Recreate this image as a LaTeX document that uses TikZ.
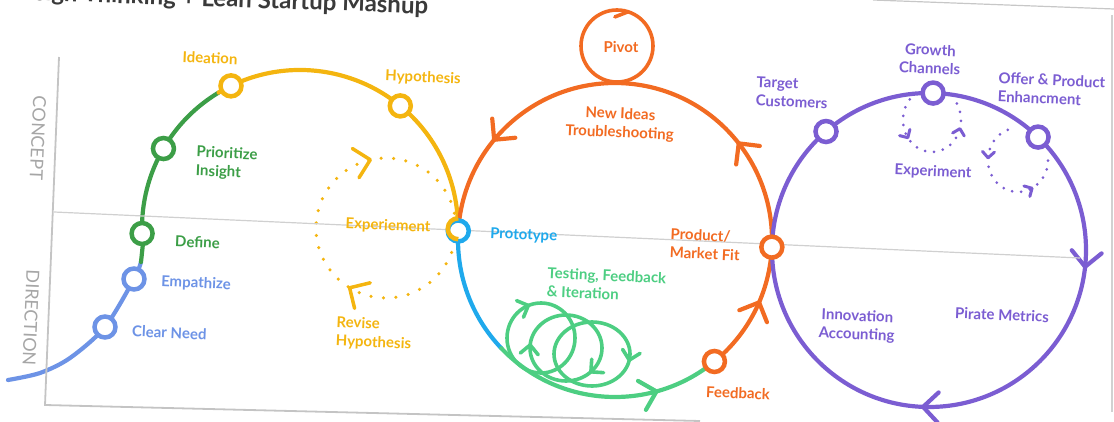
\documentclass[tikz,border=0pt]{standalone}
\usepackage{fontspec}
\setmainfont{Lato}
\usetikzlibrary{positioning,calc,decorations.markings}
\pgfdeclarelayer{bg}
\pgfsetlayers{bg,main}
\definecolor{dtblue}{HTML}{6D93E6}
\definecolor{dtgreen}{HTML}{3C9E47}
\definecolor{dtyellow}{HTML}{F4B510}
\definecolor{dtcyan}{HTML}{1FA9EC}
\definecolor{dtorange}{HTML}{F26B22}
\definecolor{dtmint}{HTML}{4DCE82}
\definecolor{dtpurple}{HTML}{7B5DD2}
\definecolor{dtaxis}{HTML}{C4C4C4}
\definecolor{dttitle}{HTML}{3A3A3A}

\begin{document}
\begin{tikzpicture}[x=1pt, y=1pt,
  curve/.style={line width=4.2pt, line cap=round},
  loopline/.style={line width=3.6pt, line cap=round},
  ring/.style={circle, draw=#1, fill=white, line width=4.5pt, minimum size=21pt, inner sep=0pt},
  lbl/.style={font=\fontsize{15}{18.5}\selectfont\bfseries, text=#1, rotate=-2.5, inner sep=0pt},
  axislbl/.style={font=\fontsize{18}{18}\selectfont, text=black!35, rotate=-92.5, inner sep=0pt},
  ydots/.style={line width=3.5pt, dash pattern=on 0pt off 12.5pt, line cap=round},
  pdots/.style={line width=3pt, dash pattern=on 0pt off 9pt, line cap=round},
  arr/.style={postaction={decorate, decoration={markings, mark=at position #1 with {\draw[solid, line cap=round, line join=round] (-15pt,15pt) -- (0pt,0pt) -- (-15pt,-15pt);}}}},
  marr/.style={postaction={decorate, decoration={markings, mark=at position #1 with {\draw[solid, line cap=round, line join=round] (-9pt,9pt) -- (0pt,0pt) -- (-9pt,-9pt);}}}},
  sarr/.style={postaction={decorate, decoration={markings, mark=at position #1 with {\draw[solid, line cap=round, line join=round] (-6pt,6pt) -- (0pt,0pt) -- (-6pt,-6pt);}}}},
  harr/.style={postaction={decorate, decoration={markings, mark=at position #1 with {\draw[solid, line cap=round] (-11pt,-9pt) -- (0pt,0pt);}}}}]
\useasboundingbox (0,0) rectangle (1114,-422);

% axes and paper edge
\coordinate (ytop) at (59,-57);
\coordinate (orig) at (45,-405);
\coordinate (xend) at (700,-421);
\coordinate (mleft) at (54,-212);
\coordinate (mright) at (1080,-258);
\draw[dtaxis, line width=1.8pt] (ytop) -- (orig) -- (xend);
\draw[dtaxis!80, line width=1.2pt] (mleft) -- (mright);
\coordinate (etl) at (873,0);
\coordinate (etr) at (1114,-9);
\coordinate (ebt) at (1112,-15);
\coordinate (ebr) at (1112,-412);
\draw[black!22, line width=1.2pt] (etl) -- (etr);
\draw[black!18, line width=1.4pt] (ebt) -- (ebr);

\node[font=\fontsize{24}{24}\selectfont\bfseries, text=dttitle, anchor=base east, rotate=-2, inner sep=0pt] (title) at (428,-14) {Design Thinking + Lean Startup Mashup};
\node[axislbl] (lconcept) at (38,-138) {CONCEPT};
\node[axislbl] (ldirection) at (31,-318) {DIRECTION};

% centres
\coordinate (C1) at (300,-228);
\coordinate (C2) at (615,-240);
\coordinate (C3) at (929,-250);
\coordinate (C4) at (386,-228);
\coordinate (P) at (617,-46);
\coordinate (L1) at (541,-338);
\coordinate (L2) at (566,-348);
\coordinate (L3) at (592,-354);
\coordinate (E1) at (932,-120);
\coordinate (E2) at (1018,-160);

% rings
\node[ring=dtblue] (cneed) at (105,-327) {};
\node[ring=dtblue] (empath) at (134,-279) {};
\node[ring=dtgreen] (define) at ($(C1)+(182:158)$) {};
\node[ring=dtgreen] (prior) at ($(C1)+(149.8:158)$) {};
\node[ring=dtyellow] (idea) at ($(C1)+(115.9:158)$) {};
\node[ring=dtyellow] (hypo) at ($(C1)+(50.6:158)$) {};
\node[ring=dtcyan] (proto) at ($(C2)+(176.7:157)$) {};
\draw[dtyellow, line width=4.5pt] (proto.north) arc[start angle=90, end angle=270, radius=10.5];
\node[ring=dtorange] (fit) at ($(C2)+(357.4:157)$) {};
\node[ring=dtorange] (feed) at ($(C2)+(309.3:157)$) {};
\node[ring=dtpurple] (target) at ($(C3)+(131:157)$) {};
\node[ring=dtpurple] (growth) at ($(C3)+(88.5:157)$) {};
\node[ring=dtpurple] (offer) at ($(C3)+(46:157)$) {};

\begin{pgfonlayer}{bg}
% design thinking
\draw[curve, dtblue] plot[smooth] coordinates {(141,-262) (empath.center) (cneed.center) (70,-358) (40,-373) (8,-380)};
\draw[curve, dtgreen] ($(C1)+(121:158)$) arc[start angle=121, end angle=186, radius=158] -- (141,-262);
\draw[curve, dtyellow] ($(C1)+(121:158)$) arc[start angle=121, end angle=-1.1, radius=158];
\draw[dtyellow, ydots, arr=0.337, arr=0.714] ($(C4)+(0:70)$) arc[start angle=360, end angle=0, radius=70];
% lean loop
\draw[curve, dtcyan] ($(C2)+(176.7:157)$) arc[start angle=176.7, end angle=223.6, radius=157];
\draw[curve, dtmint, arr=0.72] ($(C2)+(223.6:157)$) arc[start angle=223.6, end angle=309.3, radius=157];
\draw[curve, dtorange, arr=0.12, arr=0.39, arr=0.84] ($(C2)+(309.3:157)$) arc[start angle=309.3, end angle=536.7, radius=157];
\draw[dtorange, loopline, harr=0.55] ($(P)+(270:36)$) arc[start angle=270, end angle=-90, radius=36];
\draw[dtmint, loopline, marr=0.19] ($(L1)+(180:34 and 35)$) arc[start angle=180, end angle=-180, x radius=34, y radius=35];
\draw[dtmint, loopline, marr=0.264, marr=0.875] ($(L2)+(270:36 and 33)$) arc[start angle=270, end angle=-90, x radius=36, y radius=33];
\draw[dtmint, loopline, marr=0.528] ($(L3)+(180:38 and 32)$) arc[start angle=180, end angle=-180, x radius=38, y radius=32];
% growth loop
\draw[curve, dtpurple, arr=0.517, arr=0.756] ($(C3)+(180:157)$) arc[start angle=180, end angle=-180, radius=157];
\draw[dtpurple, pdots, sarr=0.29, sarr=0.78] ($(E1)+(140:29 and 32)$) arc[start angle=140, end angle=400, x radius=29, y radius=32];
\draw[dtpurple, pdots, sarr=0.25, sarr=0.706] ($(E2)+(110:30 and 32)$) arc[start angle=110, end angle=375, x radius=30, y radius=32];
\end{pgfonlayer}

% labels
\node[lbl=dtblue, anchor=west] (lneed) at (132,-331) {Clear Need};
\node[lbl=dtblue, anchor=west] (lempath) at (161,-282) {Empathize};
\node[lbl=dtgreen, anchor=west] (ldefine) at (175,-241) {Define};
\node[lbl=dtgreen, anchor=west, align=left] (lprior) at (196,-162) {Prioritize\\Insight};
\node[lbl=dtyellow] (lidea) at (210,-58) {Ideation};
\node[lbl=dtyellow] (lhypo) at (423,-78) {Hypothesis};
\node[lbl=dtyellow] (lexper) at (388,-226) {Experiement};
\node[lbl=dtyellow, anchor=west, align=left] (lrevise) at (336,-332) {Revise\\Hypothesis};
\node[lbl=dtcyan, anchor=west] (lproto) at (490,-234) {Prototype};
\node[lbl=dtorange, rotate=2.5] (lpivot) at (621,-47) {Pivot};
\node[lbl=dtorange, align=center] (lnew) at (620,-124) {New Ideas\\Troubleshooting};
\node[lbl=dtorange, anchor=west, align=left] (lfit) at (670,-243) {Product/\\Market Fit};
\node[lbl=dtmint, anchor=west, align=left] (ltest) at (547,-282) {Testing, Feedback\\\& Iteration};
\node[lbl=dtorange] (lfeed) at (738,-393) {Feedback};
\node[lbl=dtpurple, anchor=west, align=left] (ltarget) at (756,-91) {Target\\Customers};
\node[lbl=dtpurple, align=center] (lgrowth) at (930,-59) {Growth\\Channels};
\node[lbl=dtpurple, anchor=west, align=left] (loffer) at (998,-87) {Offer \& Product\\Enhancment};
\node[lbl=dtpurple] (lexp) at (933,-172) {Experiment};
\node[lbl=dtpurple, align=center] (linnov) at (857,-326) {Innovation\\Accounting};
\node[lbl=dtpurple] (lpirate) at (1002,-315) {Pirate Metrics};
\end{tikzpicture}
\end{document}
